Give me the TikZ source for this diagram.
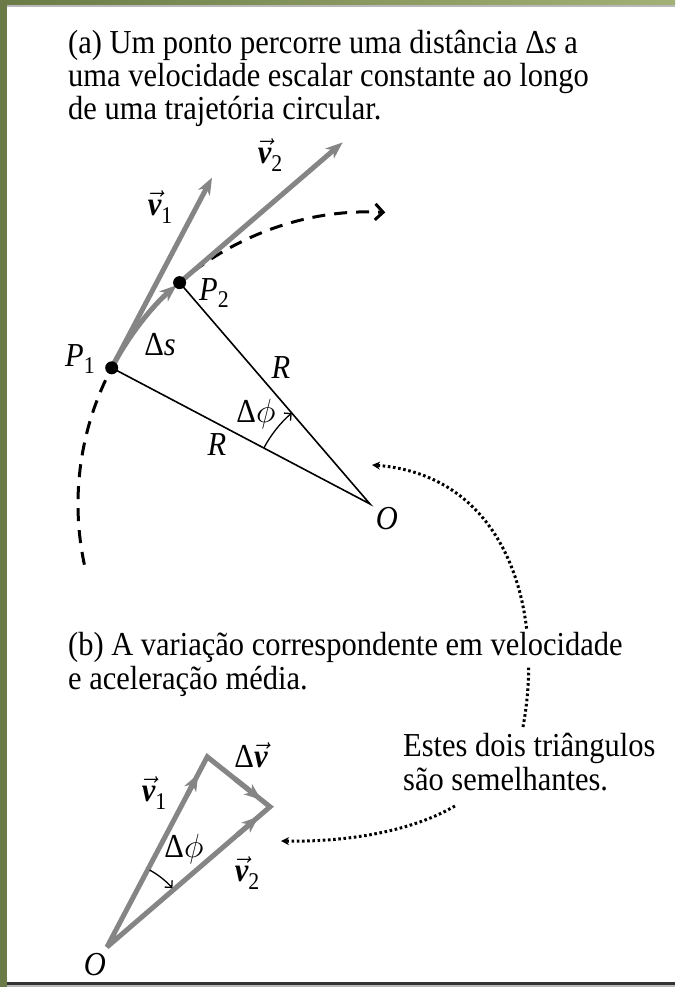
\RequirePackage{fix-cm}
\documentclass[tikz,border=0pt]{standalone}
\usepackage{fontspec}
\setmainfont{Liberation Serif}[FakeStretch=0.91]
\usetikzlibrary{arrows.meta,calc}
\definecolor{grdark}{HTML}{6B7B47}
\definecolor{grlight}{HTML}{A2B276}
\definecolor{vecgray}{HTML}{858585}
\newcommand\vecv{\ensuremath{\vec{\hbox{\bfseries\itshape v}}}}
\newcommand\lsub[1]{\raisebox{-0.22em}{\fontsize{24}{24}\selectfont #1}}
\begin{document}
\begin{tikzpicture}[x=1pt,y=1pt,
  every node/.style={font=\fontsize{33.5}{34}\selectfont, inner sep=0pt},
  txt/.style={anchor=base west},
  lbl/.style={anchor=center},
  vecarrow/.style={draw=vecgray, line width=5pt, -{Stealth[length=17pt,width=13pt,inset=5pt]}},
  vecline/.style={draw=vecgray, line width=5pt, line join=miter, miter limit=3},
  vechead/.style={draw=vecgray, line width=5pt, -{Stealth[length=17pt,width=13pt,inset=5pt]}},
  dashpath/.style={draw=black, line width=3pt, dash pattern=on 13pt off 9pt, -{Straight Barb[length=8pt,width=16pt]}},
  dotline/.style={draw=black, line width=3pt, dash pattern=on 2.6pt off 2.6pt, -{Stealth[length=8pt,width=8pt]}},
  radline/.style={draw=black, line width=1.6pt},
  anglearc/.style={draw=black, line width=1.3pt, -{Straight Barb[length=5pt,width=10pt]}},
  dot/.style={circle, fill=black, minimum size=13pt, inner sep=0pt}]
\useasboundingbox (0,0) rectangle (675,987);
\fill[white] (0,0) rectangle (675,987);
% frame
\shade[left color=grdark, right color=grlight] (0,982.5) rectangle (675,987);
\fill[gray!55] (6.7,979.6) rectangle (675,981.8);
\fill[black!80] (6.7,2.3) rectangle (675,4.6);
\fill[gray!55] (6.7,0) rectangle (675,2.3);
\fill[grdark] (0,0) rectangle (6.7,987);

% ---------- (a) ----------
\node[txt] (ta1) at (68,933) {(a) Um ponto percorre uma distância Δ\textit{s} a};
\node[txt] (ta2) at (68,900) {uma velocidade escalar constante ao longo};
\node[txt] (ta3) at (68,867) {de uma trajetória circular.};

\coordinate (O) at (370,483);
\coordinate (P1) at ($(O)+(152.2:292)$);
\coordinate (P2) at ($(O)+(130.7:292)$);
\coordinate (V1) at ($(P1)+(62.2:215)$);
\coordinate (V2) at ($(P2)+(40.7:215)$);
\coordinate (Ds) at ($(O)+(192:292)$);
\coordinate (Aa) at ($(O)+(152.2:120)$);

\draw[dashpath] (Ds) arc[start angle=192, end angle=87, radius=292];
\draw[radline] (P1) -- (O) -- (P2);
\draw[anglearc] (Aa) arc[start angle=152.2, end angle=130.7, radius=120];
\draw[vecarrow, shorten >=4pt] (P1) arc[start angle=152.2, end angle=130.7, radius=292];
\draw[vecarrow] (P1) -- (V1);
\draw[vecarrow] (P2) -- (V2);
\node[dot] (p1) at (P1) {};
\node[dot] (p2) at (P2) {};

\node[lbl] (lv1) at (160,780) {\vecv\lsub{1}};
\node[lbl] (lv2) at (270,832) {\vecv\lsub{2}};
\node[lbl] (lp2) at (214,694) {\textit{P}\lsub{2}};
\node[lbl] (lp1) at (80,628) {\textit{P}\lsub{1}};
\node[lbl] (lds) at (160,642) {Δ\textit{s}};
\node[lbl] (lr1) at (281,619) {\textit{R}};
\node[lbl] (lr2) at (217,542) {\textit{R}};
\node[lbl] (lphi) at (256,573) {Δ$\phi$};
\node[lbl] (lo) at (387,468) {\textit{O}};

% ---------- (b) ----------
\coordinate (d1s) at (523,260);
\coordinate (d1e) at (372,522);
\draw[dotline] (d1s) .. controls (545,380) and (505,512) .. (d1e);

\node[txt, fill=white, inner sep=3pt] (tb1) at (65,331) {(b) A variação correspondente em velocidade};
\node[txt] (tb2) at (68,297) {e aceleração média.};
\node[txt] (te1) at (403,230) {Estes dois triângulos};
\node[txt] (te2) at (403,196) {são semelhantes.};

\coordinate (d2s) at (455,181);
\coordinate (d2e) at (281,146);
\draw[dotline] (d2s) .. controls (405,152) and (335,145) .. (d2e);

\coordinate (Ob) at (107,40);
\coordinate (T) at ($(Ob)+(62.2:215)$);
\coordinate (Rv) at ($(Ob)+(40.7:215)$);
\draw[vecline] (Ob) -- (T) -- (Rv) -- cycle;
\draw[vechead] ($(Ob)!0.80!(T)$) -- ($(Ob)!0.91!(T)$);
\draw[vechead] ($(T)!0.45!(Rv)$) -- ($(T)!0.86!(Rv)$);
\draw[vechead] ($(Ob)!0.80!(Rv)$) -- ($(Ob)!0.93!(Rv)$);
\draw[anglearc] ($(Ob)+(61:88)$) arc[start angle=61, end angle=42, radius=88];

\node[lbl] (bdv) at (251,232) {Δ\vecv};
\node[lbl] (bv1) at (154,194) {\vecv\lsub{1}};
\node[lbl] (bphi) at (184,138) {Δ$\phi$};
\node[lbl] (bv2) at (247,114) {\vecv\lsub{2}};
\node[lbl] (bo) at (95,22) {\textit{O}};
\end{tikzpicture}
\end{document}
